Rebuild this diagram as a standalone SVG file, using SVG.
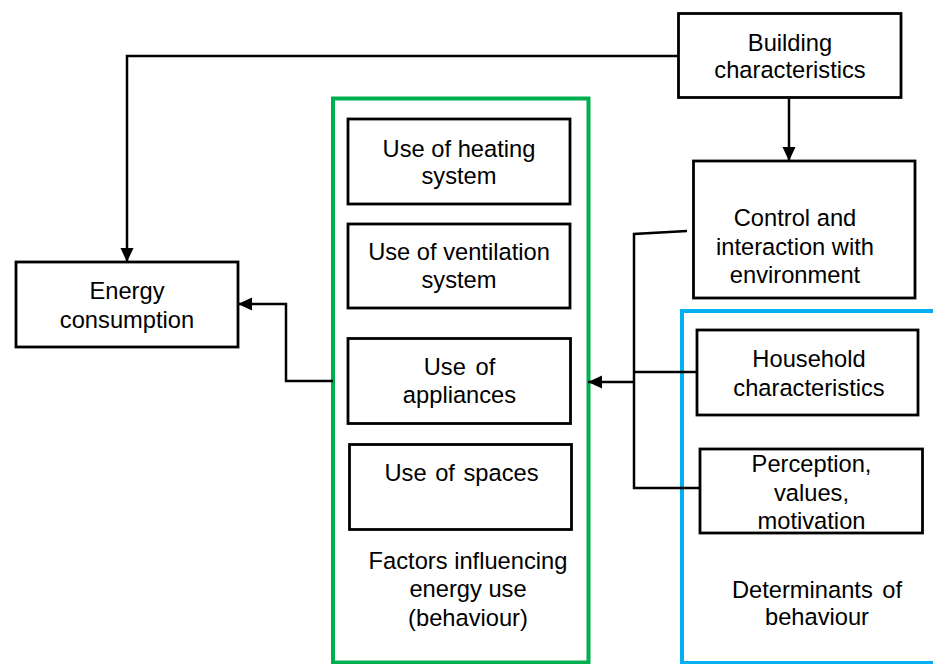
<svg xmlns="http://www.w3.org/2000/svg" width="933" height="664" viewBox="0 0 933 664">
<defs>
<marker id="ah" viewBox="0 0 14 14" refX="14" refY="7" markerWidth="14" markerHeight="14" markerUnits="userSpaceOnUse" orient="auto">
<path d="M0,0.5 L14,7 L0,13.5 Z" fill="#000"/>
</marker>
<style>
.box{fill:#fff;stroke:#000;stroke-width:2.8}
.t{font-family:"Liberation Sans",Arial,sans-serif;font-size:23.7px;fill:#000;text-anchor:middle}
.c{fill:none;stroke:#000;stroke-width:2.5}
</style>
</defs>
<rect width="933" height="664" fill="#fff"/>
<g id="group-factors">
<rect x="333" y="98.5" width="255.5" height="564" fill="none" stroke="#00B050" stroke-width="4"/>
<text class="t" x="468" y="569">Factors influencing</text>
<text class="t" x="468" y="597">energy use</text>
<text class="t" x="468" y="626">(behaviour)</text>
</g>
<g id="group-determinants">
<rect x="682" y="311" width="260" height="352" fill="none" stroke="#00B0F0" stroke-width="4"/>
<text class="t" x="817" y="598" word-spacing="3">Determinants of</text>
<text class="t" x="817" y="625">behaviour</text>
</g>
<g id="connectors">
<polyline class="c" points="679,56 127,56 127,262" marker-end="url(#ah)"/>
<polyline class="c" points="789,98 789,161" marker-end="url(#ah)"/>
<polyline class="c" points="333,381 286,381 286,304 238,304" marker-end="url(#ah)"/>
<polyline class="c" points="687,231 634,234 634,488 700,488"/>
<polyline class="c" points="634,372 697,372"/>
<polyline class="c" points="634,382 588,382" marker-end="url(#ah)"/>
</g>
<g id="energy">
<rect class="box" x="16" y="262" width="222" height="85"/>
<text class="t" x="127" y="299">Energy</text>
<text class="t" x="127" y="328">consumption</text>
</g>
<g id="building">
<rect class="box" x="678.5" y="13.5" width="222.5" height="84"/>
<text class="t" x="790" y="51">Building</text>
<text class="t" x="790" y="78">characteristics</text>
</g>
<g id="control">
<rect class="box" x="693.5" y="161" width="221.5" height="137"/>
<text class="t" x="795" y="226">Control and</text>
<text class="t" x="795" y="255">interaction with</text>
<text class="t" x="795" y="283">environment</text>
</g>
<g id="heating">
<rect class="box" x="348" y="119" width="222" height="85"/>
<text class="t" x="459" y="157">Use of heating</text>
<text class="t" x="459" y="184">system</text>
</g>
<g id="ventilation">
<rect class="box" x="348" y="224" width="222" height="84"/>
<text class="t" x="459" y="260">Use of ventilation</text>
<text class="t" x="459" y="288">system</text>
</g>
<g id="appliances">
<rect class="box" x="348" y="338.5" width="222.5" height="85"/>
<text class="t" x="459.5" y="375" word-spacing="3">Use of</text>
<text class="t" x="459.5" y="403">appliances</text>
</g>
<g id="spaces">
<rect class="box" x="349.5" y="444.5" width="222" height="85"/>
<text class="t" x="461.5" y="481" word-spacing="2">Use of spaces</text>
</g>
<g id="household">
<rect class="box" x="697" y="330" width="221" height="85"/>
<text class="t" x="809" y="367">Household</text>
<text class="t" x="809" y="396">characteristics</text>
</g>
<g id="perception">
<rect class="box" x="700" y="449" width="222.5" height="84"/>
<text class="t" x="811.5" y="472">Perception,</text>
<text class="t" x="811.5" y="501">values,</text>
<text class="t" x="811.5" y="529">motivation</text>
</g>
</svg>
